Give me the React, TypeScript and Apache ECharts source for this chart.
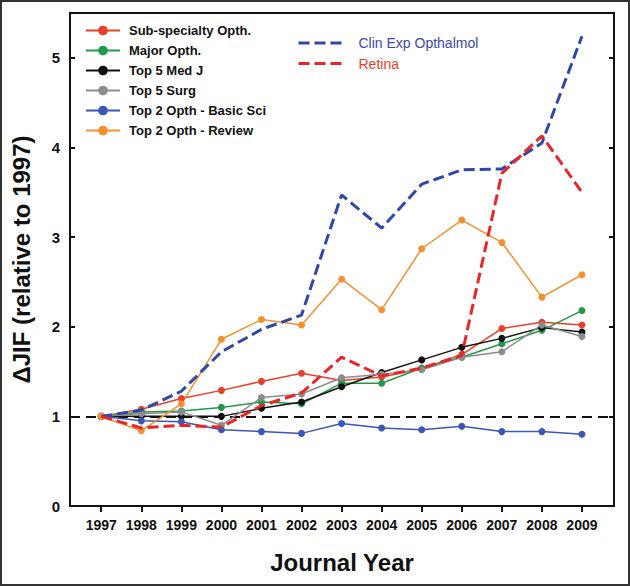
import React, { useEffect, useRef } from "react";
import * as echarts from "echarts";

const years = [1997, 1998, 1999, 2000, 2001, 2002, 2003, 2004, 2005, 2006, 2007, 2008, 2009];
const yTicks = [0, 1, 2, 3, 4, 5];

const subSpecialty = [1.0, 1.08, 1.2, 1.29, 1.39, 1.48, 1.4, 1.44, 1.53, 1.69, 1.98, 2.05, 2.02];
const majorOpth = [1.0, 1.05, 1.06, 1.1, 1.16, 1.14, 1.37, 1.37, 1.54, 1.66, 1.81, 1.96, 2.18];
const top5MedJ = [1.0, 1.0, 1.0, 1.0, 1.09, 1.16, 1.33, 1.49, 1.63, 1.77, 1.87, 1.99, 1.94];
const top5Surg = [1.0, 1.03, 1.05, 0.9, 1.21, 1.25, 1.43, 1.47, 1.52, 1.66, 1.72, 2.02, 1.89];
const basicSci = [1.0, 0.95, 0.94, 0.85, 0.83, 0.81, 0.92, 0.87, 0.85, 0.89, 0.83, 0.83, 0.8];
const review = [1.0, 0.84, 1.14, 1.86, 2.08, 2.02, 2.53, 2.19, 2.87, 3.19, 2.94, 2.33, 2.58];
const clinExp = [1.0, 1.07, 1.28, 1.72, 1.97, 2.13, 3.47, 3.1, 3.59, 3.75, 3.76, 4.05, 5.24];
const retina = [1.0, 0.87, 0.9, 0.88, 1.12, 1.26, 1.66, 1.45, 1.54, 1.68, 3.71, 4.13, 3.5];

const FONT = "'Liberation Sans', Arial, sans-serif";

function pairs(vals: number[]) {
  return years.map((y, i) => [y, vals[i]]);
}

function solid(name: string, vals: number[], color: string) {
  return {
    type: "line",
    name,
    data: pairs(vals),
    symbol: "circle",
    symbolSize: 7,
    lineStyle: { color, width: 1.5 },
    itemStyle: { color },
    z: 3,
  };
}

function dashed(name: string, vals: number[], color: string) {
  return {
    type: "line",
    name,
    data: pairs(vals),
    symbol: "none",
    showSymbol: false,
    lineStyle: { color, width: 3, type: [11, 5] },
    itemStyle: { color },
    z: 4,
  };
}

export default function App() {
  const ref = useRef<HTMLDivElement>(null);
  useEffect(() => {
    document.body.style.margin = "0";
    const chart = echarts.init(ref.current!, null, { renderer: "svg" });
    const xMin = 1996.22;
    const xMax = 2009.8;
    const first: any = solid("Sub-specialty Opth.", subSpecialty, "#e8402a");
    first.markLine = {
      silent: true,
      symbol: ["none", "none"],
      label: { show: false },
      lineStyle: { color: "#111", width: 2, type: [10, 6] },
      data: [{ yAxis: 1 }],
      z: 2,
    };
    const option: any = {
      animation: false,
      textStyle: { fontFamily: FONT },
      grid: { left: 70, right: 16, top: 13, bottom: 80, containLabel: false },
      graphic: [
        {
          type: "rect",
          shape: { x: 1, y: 1, width: 628, height: 584 },
          style: { fill: "none", stroke: "#333", lineWidth: 2 },
          silent: true,
        },
      ],
      legend: [
        {
          left: 85,
          top: 24,
          orient: "vertical",
          padding: 0,
          itemWidth: 34,
          itemHeight: 12,
          itemGap: 7,
          textStyle: { fontSize: 13, fontWeight: "bold", color: "#111", fontFamily: FONT, padding: [0, 0, 0, 4] },
          data: [
            "Sub-specialty Opth.",
            "Major Opth.",
            "Top 5 Med J",
            "Top 5 Surg",
            "Top 2 Opth - Basic Sci",
            "Top 2 Opth - Review",
          ],
        },
        {
          left: 297,
          top: 36,
          orient: "vertical",
          padding: 0,
          itemWidth: 44,
          itemHeight: 12,
          itemGap: 6.5,
          textStyle: { fontSize: 14, fontFamily: FONT, padding: [0, 0, 0, 11] },
          data: [
            {
              name: "Clin Exp Opthalmol",
              textStyle: { color: "#3a4aa8" },
              itemStyle: { opacity: 0 },
              lineStyle: { width: 3, type: [11, 5] },
            },
            {
              name: "Retina",
              textStyle: { color: "#e8402a" },
              itemStyle: { opacity: 0 },
              lineStyle: { width: 3, type: [11, 5] },
            },
          ],
        },
      ],
      xAxis: [
        {
          type: "value",
          min: xMin,
          max: xMax,
          axisLine: { show: true, onZero: false, lineStyle: { color: "#111", width: 2 } },
          axisTick: { show: true, inside: false, length: 6, customValues: years, lineStyle: { color: "#111", width: 2 } },
          axisLabel: {
            customValues: years,
            formatter: (v: number) => String(Math.round(v)),
            fontSize: 14,
            fontWeight: "bold",
            color: "#111",
            margin: 12,
          },
          splitLine: { show: false },
          name: "Journal Year",
          nameLocation: "middle",
          nameGap: 44,
          nameTextStyle: { fontSize: 24, fontWeight: "bold", color: "#111" },
        },
        {
          type: "value",
          position: "top",
          min: xMin,
          max: xMax,
          axisLine: { show: true, onZero: false, lineStyle: { color: "#111", width: 2 } },
          axisTick: { show: false },
          axisLabel: { show: false },
          splitLine: { show: false },
        },
      ],
      yAxis: [
        {
          type: "value",
          min: 0,
          max: 5.5,
          axisLine: { show: true, onZero: false, lineStyle: { color: "#111", width: 2 } },
          axisTick: { show: true, inside: true, length: 5, customValues: yTicks, lineStyle: { color: "#111", width: 2 } },
          axisLabel: {
            customValues: yTicks,
            fontSize: 15,
            fontWeight: "bold",
            color: "#111",
            margin: 10,
          },
          splitLine: { show: false },
          name: "\u0394JIF (relative to 1997)",
          nameLocation: "middle",
          nameGap: 37,
          nameTextStyle: { fontSize: 24, fontWeight: "bold", color: "#111" },
        },
        {
          type: "value",
          position: "right",
          min: 0,
          max: 5.5,
          axisLine: { show: true, onZero: false, lineStyle: { color: "#111", width: 2 } },
          axisTick: { show: true, inside: true, length: 5, customValues: yTicks, lineStyle: { color: "#111", width: 2 } },
          axisLabel: { show: false },
          splitLine: { show: false },
        },
      ],
      series: [
        first,
        solid("Major Opth.", majorOpth, "#22994a"),
        solid("Top 5 Med J", top5MedJ, "#111111"),
        solid("Top 5 Surg", top5Surg, "#8c8c8c"),
        solid("Top 2 Opth - Basic Sci", basicSci, "#3a57b5"),
        solid("Top 2 Opth - Review", review, "#f39130"),
        dashed("Clin Exp Opthalmol", clinExp, "#2f48a8"),
        dashed("Retina", retina, "#e8262a"),
      ],
    };
    chart.setOption(option);
    return () => chart.dispose();
  }, []);
  return <div ref={ref} style={{ width: 630, height: 586 }} />;
}
